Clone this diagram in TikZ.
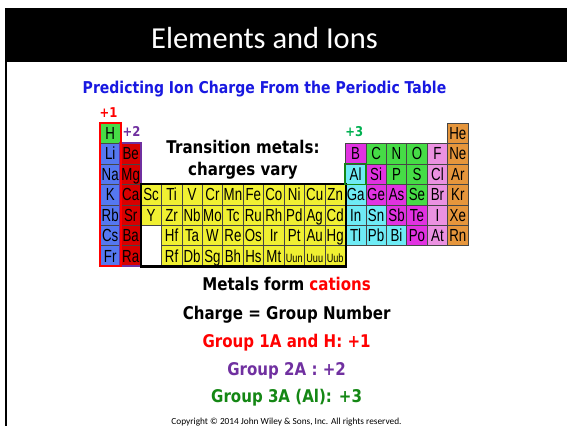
\documentclass[tikz,border=0pt]{standalone}
\usepackage{fontspec}
\setmainfont{Liberation Sans}
\newfontfamily\titlefont{Carlito}
\newfontfamily\boldfont[FakeStretch=0.86]{DejaVu Sans Bold}
\newfontfamily\cellfont[FakeStretch=0.76]{Liberation Sans}

\definecolor{hgreen}{RGB}{70,220,70}
\definecolor{alkblue}{RGB}{85,120,240}
\definecolor{earthred}{RGB}{215,0,0}
\definecolor{transyellow}{RGB}{240,240,50}
\definecolor{metalloidpink}{RGB}{225,50,225}
\definecolor{nonmetalgreen}{RGB}{70,220,70}
\definecolor{halogenpink}{RGB}{235,145,225}
\definecolor{nobleorange}{RGB}{230,150,60}
\definecolor{postcyan}{RGB}{110,235,245}
\definecolor{subblue}{RGB}{25,25,225}
\definecolor{grpurple}{RGB}{112,48,160}
\definecolor{grgreen}{RGB}{20,135,20}
\definecolor{plusgreen}{RGB}{0,176,80}

\begin{document}
\begin{tikzpicture}[x=1pt, y=-1pt]
    % Styles
    \tikzstyle{cell} = [rectangle, draw=gray!55!black, line width=0.6pt, inner sep=0pt,
        minimum size=20.45pt, text height=12.6pt, text depth=0pt,
        font=\cellfont\fontsize{17.5}{19}\selectfont]
    \tikzstyle{hydrogen} = [fill=hgreen]
    \tikzstyle{alkali} = [fill=alkblue]
    \tikzstyle{earth} = [fill=earthred]
    \tikzstyle{trans} = [fill=transyellow]
    \tikzstyle{small} = [fill=transyellow, font=\cellfont\fontsize{12}{13}\selectfont]
    \tikzstyle{metalloid} = [fill=metalloidpink]
    \tikzstyle{nonmetal} = [fill=nonmetalgreen]
    \tikzstyle{halogen} = [fill=halogenpink]
    \tikzstyle{noble} = [fill=nobleorange]
    \tikzstyle{post} = [fill=postcyan]
    \tikzstyle{chargetag} = [anchor=base, inner sep=0pt, font=\boldfont\fontsize{13.5}{15}\selectfont]
    \tikzstyle{bigtext} = [anchor=base, inner sep=0pt, font=\boldfont\fontsize{17.5}{22.4}\selectfont]

    \useasboundingbox (0,0) rectangle (567,426);

    % === Header ===
    \fill (5,8) rectangle (567,62);
    \fill (5,62) rectangle (7,426);
    \node [anchor=base, text=white, font=\titlefont\fontsize{30.5}{33}\selectfont]
        (title) at (264.5,48.3) {Elements and Ions};
    \node [anchor=base, text=subblue, font=\boldfont\fontsize{16.3}{18}\selectfont]
        (subtitle) at (264.5,93.3) {Predicting Ion Charge From the Periodic Table};

    % === Periodic table ===
    % Period 1
    \foreach \c/\el/\kind in {1/H/hydrogen, 18/He/noble}
        \node [cell, \kind] (\el) at ({100+(\c-0.5)*20.45},{123+0.5*20.45}) {\el};
    % Period 2
    \foreach \c/\el/\kind in {1/Li/alkali, 2/Be/earth, 13/B/metalloid, 14/C/nonmetal,
        15/N/nonmetal, 16/O/nonmetal, 17/F/halogen, 18/Ne/noble}
        \node [cell, \kind] (\el) at ({100+(\c-0.5)*20.45},{123+1.5*20.45}) {\el};
    % Period 3
    \foreach \c/\el/\kind in {1/Na/alkali, 2/Mg/earth, 13/Al/post, 14/Si/metalloid,
        15/P/nonmetal, 16/S/nonmetal, 17/Cl/halogen, 18/Ar/noble}
        \node [cell, \kind] (\el) at ({100+(\c-0.5)*20.45},{123+2.5*20.45}) {\el};
    % Period 4
    \foreach \c/\el/\kind in {1/K/alkali, 2/Ca/earth, 3/Sc/trans, 4/Ti/trans, 5/V/trans,
        6/Cr/trans, 7/Mn/trans, 8/Fe/trans, 9/Co/trans, 10/Ni/trans, 11/Cu/trans,
        12/Zn/trans, 13/Ga/post, 14/Ge/metalloid, 15/As/metalloid, 16/Se/nonmetal,
        17/Br/halogen, 18/Kr/noble}
        \node [cell, \kind] (\el) at ({100+(\c-0.5)*20.45},{123+3.5*20.45}) {\el};
    % Period 5
    \foreach \c/\el/\kind in {1/Rb/alkali, 2/Sr/earth, 3/Y/trans, 4/Zr/trans, 5/Nb/trans,
        6/Mo/trans, 7/Tc/trans, 8/Ru/trans, 9/Rh/trans, 10/Pd/trans, 11/Ag/trans,
        12/Cd/trans, 13/In/post, 14/Sn/post, 15/Sb/metalloid, 16/Te/metalloid,
        17/I/halogen, 18/Xe/noble}
        \node [cell, \kind] (\el) at ({100+(\c-0.5)*20.45},{123+4.5*20.45}) {\el};
    % Period 6
    \foreach \c/\el/\kind in {1/Cs/alkali, 2/Ba/earth, 4/Hf/trans, 5/Ta/trans, 6/W/trans,
        7/Re/trans, 8/Os/trans, 9/Ir/trans, 10/Pt/trans, 11/Au/trans, 12/Hg/trans,
        13/Tl/post, 14/Pb/post, 15/Bi/post, 16/Po/metalloid, 17/At/halogen, 18/Rn/noble}
        \node [cell, \kind] (\el) at ({100+(\c-0.5)*20.45},{123+5.5*20.45}) {\el};
    % Period 7
    \foreach \c/\el/\kind in {1/Fr/alkali, 2/Ra/earth, 4/Rf/trans, 5/Db/trans, 6/Sg/trans,
        7/Bh/trans, 8/Hs/trans, 9/Mt/trans, 10/Uun/small, 11/Uuu/small, 12/Uub/small}
        \node [cell, \kind] (\el) at ({100+(\c-0.5)*20.45},{123+6.5*20.45}) {\el};

    % === Group outlines ===
    \draw [grpurple, line width=2pt] (Be.north west) rectangle (Ra.south east);
    \draw [red, line width=2pt] (H.north west) rectangle (Fr.south east);
    \draw [line width=2.2pt] (Sc.north west) rectangle (Uub.south east);
    \draw [grgreen, line width=1.5pt] (Al.north west) rectangle (Al.south east);

    % === Charge labels ===
    \node [chargetag, text=red] (plusone) at (108.5,117.3) {+1};
    \node [chargetag, text=grpurple] (plustwo) at (131.5,136.7) {+2};
    \node [chargetag, text=plusgreen] (plusthree) at (354.2,136.7) {+3};
    \node [bigtext, anchor=center, align=center] (transnote) at (243,160)
        {Transition metals:\\charges vary};

    % === Rules ===
    \node [bigtext] (cations) at (286.6,290) {Metals form \textcolor{red}{cations}};
    \node [bigtext] (rule) at (286.6,319.3) {Charge = Group Number};
    \node [bigtext, text=red] (groupone) at (286.6,347.3) {Group 1A and H: +1};
    \node [bigtext, text=grpurple] (grouptwo) at (286.6,375.7) {Group 2A : +2};
    \node [bigtext, text=grgreen] (groupthree) at (286.6,402.7) {Group 3A (Al): +3};
    \node [anchor=base, inner sep=0pt, font=\titlefont\fontsize{9.3}{11}\selectfont]
        (copyright) at (286.5,424) {Copyright © 2014 John Wiley \& Sons, Inc. All rights reserved.};
\end{tikzpicture}
\end{document}
